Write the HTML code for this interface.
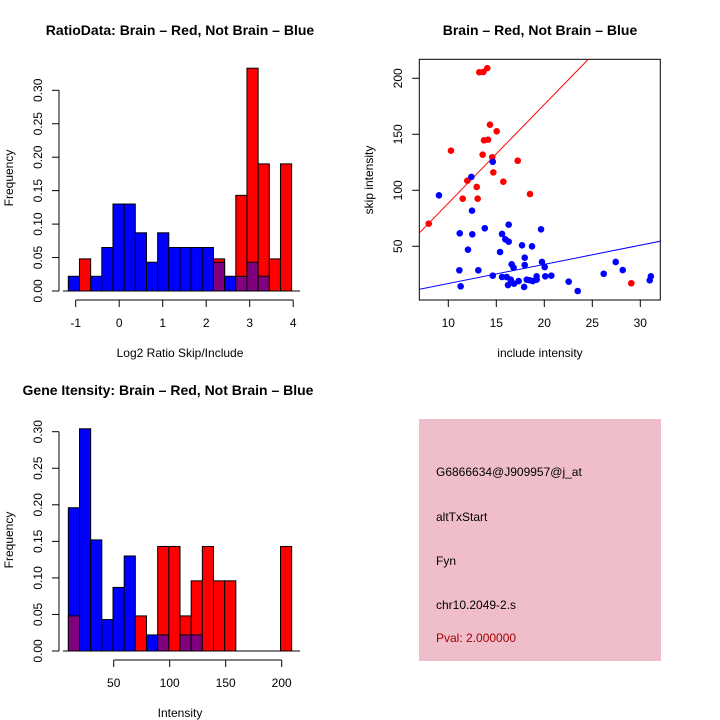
<!DOCTYPE html>
<html><head><meta charset="utf-8"><style>
html,body{margin:0;padding:0;background:#fff}
svg{display:block;font-family:"Liberation Sans",Arial,sans-serif}
</style></head><body>
<svg id="c" width="720" height="720" viewBox="0 0 720 720" xmlns="http://www.w3.org/2000/svg">
<defs>
<pattern id="pinkpat" width="2" height="2" patternUnits="userSpaceOnUse">
<rect width="2" height="2" fill="#f6c4d0"/><rect width="1" height="1" fill="#eab8c4"/><rect x="1" y="1" width="1" height="1" fill="#eab8c4"/>
</pattern>
</defs>
<text x="180" y="35" text-anchor="middle" font-size="14" font-weight="bold">RatioData: Brain – Red, Not Brain – Blue</text>
<text x="540" y="35" text-anchor="middle" font-size="14" font-weight="bold">Brain – Red, Not Brain – Blue</text>
<text x="168" y="395" text-anchor="middle" font-size="14" font-weight="bold">Gene Itensity: Brain – Red, Not Brain – Blue</text>
<text x="180" y="357" text-anchor="middle" font-size="12">Log2 Ratio Skip/Include</text>
<text transform="translate(13,178) rotate(-90)" text-anchor="middle" font-size="12">Frequency</text>
<text x="540" y="357" text-anchor="middle" font-size="12">include intensity</text>
<text transform="translate(373,180) rotate(-90)" text-anchor="middle" font-size="12">skip intensity</text>
<text x="180" y="717" text-anchor="middle" font-size="12">Intensity</text>
<text transform="translate(13,540) rotate(-90)" text-anchor="middle" font-size="12">Frequency</text>
<g>
<rect x="419" y="419" width="242" height="242" fill="url(#pinkpat)"/>
<text x="436" y="476" font-size="12">G6866634@J909957@j_at</text>
<text x="436" y="521" font-size="12">altTxStart</text>
<text x="436" y="565" font-size="12">Fyn</text>
<text x="436" y="609" font-size="12">chr10.2049-2.s</text>
<text x="436" y="642" font-size="12" fill="#a00000">Pval: 2.000000</text>
</g>
<g id="h1"></g><g id="sc"></g><g id="h2"></g>
</svg>
<script>
// Ratio histogram data
const ratioBinStart = -1.17;
const ratioBinWidth = 0.2567;
const ratioBlue = [0.022,0,0.022,0.065,0.13,0.13,0.087,0.043,0.087,0.065,0.065,0.065,0.065,0.043,0.022,0.022,0.043,0.022,0,0];
const ratioRed  = [0,0.048,0,0,0,0,0,0,0,0,0,0,0,0.048,0,0.143,0.333,0.19,0.048,0.19];
const ratioXTicks = [-1,0,1,2,3,4];
const freqTicks = ["0.00","0.05","0.10","0.15","0.20","0.25","0.30"];
// Intensity histogram data
const intBinStart = 9.5;
const intBinWidth = 9.97;
const intBlue = [0.196,0.304,0.152,0.043,0.087,0.13,0,0.022,0.022,0,0.022,0.022,0,0,0,0,0,0,0,0];
const intRed  = [0.048,0,0,0,0,0,0.048,0,0.143,0.143,0.048,0.096,0.143,0.096,0.096,0,0,0,0,0.143];
const intXTicks = [50,100,150,200];
// Scatter data
const redX = [7.96,10.28,11.5,11.98,12.96,13.06,13.23,13.65,14.06,13.58,13.72,14.14,14.34,14.58,14.69,15.04,15.73,17.23,18.51,29.06];
const redY = [70.2,135.4,92.5,108.6,103,92.5,205.4,205.7,209,131.8,144.6,145.2,158.6,129.5,116,152.7,107.7,126.4,96.7,17];
const blueX = [9.03,11.19,11.15,11.29,12.05,12.4,12.47,12.5,13.13,13.8,14.63,14.63,15.39,15.6,15.6,15.94,16.08,16.29,16.29,16.22,16.5,16.6,16.8,16.85,17.33,17.68,17.96,17.96,17.9,18.17,18.5,18.72,18.8,19.2,19.2,19.66,19.76,20.04,20.1,20.73,22.54,23.48,26.19,27.44,28.17,30.98,31.1];
const blueY = [95.5,61.6,28.6,14.3,47,111.9,81.8,60.7,28.6,66.1,125.5,23.8,44.9,61,22.6,56.2,22.6,54.1,69.3,15.4,20.2,33.9,30.9,16.6,19,50.9,39.8,33.3,13.7,20.2,19.6,50,19,23.2,20.2,65.2,36,31.5,23.2,23.8,18.4,10.1,25.5,36,28.8,19.6,23.2];
const redLine = [0.4, 8.81];   // intercept, slope
const blueLine = [-0.33, 1.71];
const scXTicks = [10,15,20,25,30];
const scYTicks = [50,100,150,200];

const NS = "http://www.w3.org/2000/svg";
function mk(parent, tag, attrs){const e=document.createElementNS(NS,tag);for(const k in attrs)e.setAttribute(k,attrs[k]);parent.appendChild(e);return e;}

function hist(gid, name, blue, red, start, width, xs, ys, xTicks, x0px, pxPerX, y0px, pxPerY, axisY, yTop){
  const g=document.getElementById(gid);
  const X=v=>x0px+(v-xTicks[0])*pxPerX;
  const Y=v=>y0px-v*pxPerY;
  for(let i=0;i<blue.length;i++){
    const b=blue[i], r=red[i];
    const xa=X(start+i*width), xb=X(start+(i+1)*width);
    const hi=Math.max(b,r), lo=Math.min(b,r);
    if(hi<=0) continue;
    const col = r>b ? "#ff0000" : "#0000ff";
    const bar=mk(g,"rect",{x:xa,y:Y(hi),width:xb-xa,height:Y(0)-Y(hi),fill:col,stroke:"#000","stroke-width":1});
    
    
    if(lo>0){
      const ov=mk(g,"rect",{x:xa,y:Y(lo),width:xb-xa,height:Y(0)-Y(lo),fill:"#800080",stroke:"#000","stroke-width":1});
      
      
    }
  }
  // y axis
  const ya=mk(g,"path",{d:`M59 ${Y(0)}V${Y(0.3)}`,stroke:"#000",fill:"none"});
  
  
  freqTicks.forEach((t,i)=>{
    const v=parseFloat(t);
    mk(g,"path",{d:`M52 ${Y(v)}H59`,stroke:"#000"});
    const tx=mk(g,"text",{transform:`translate(42,${Y(v)}) rotate(-90)`,"text-anchor":"middle","font-size":12});
    tx.textContent=t;
    
    
  });
  // baseline
  mk(g,"path",{d:`M63 ${Y(0)}H300`,stroke:"#000"});
  // x axis
  const xa=mk(g,"path",{d:`M${X(xTicks[0])} ${axisY}H${X(xTicks[xTicks.length-1])}`,stroke:"#000",fill:"none"});
  
  
  xTicks.forEach(t=>{
    mk(g,"path",{d:`M${X(t)} ${axisY}v7`,stroke:"#000"});
    const tx=mk(g,"text",{x:X(t),y:axisY+27,"text-anchor":"middle","font-size":12});
    tx.textContent=String(t);
    
    
  });
}
hist("h1","ratio-histogram",ratioBlue,ratioRed,ratioBinStart,ratioBinWidth,null,null,ratioXTicks,75.7,43.5,291,669,300,90);
hist("h2","intensity-histogram",intBlue,intRed,intBinStart,intBinWidth,null,null,intXTicks,113.7,1.12,651,731,660,432);

// scatter
(function(){
  const g=document.getElementById("sc");
  const X=v=>448.3+(v-10)*9.6;
  const Y=v=>302.3-v*1.12;
  const L=419.3,R=660.3,T=59.3,B=300;
  const box=mk(g,"rect",{x:L,y:T,width:R-L,height:B-T,fill:"none",stroke:"#000"});
  
  
  const clip=mk(g,"clipPath",{id:"scclip"});
  mk(clip,"rect",{x:L,y:T,width:R-L,height:B-T});
  const inner=mk(g,"g",{"clip-path":"url(#scclip)"});
  [[redLine,"#ff0000","red-regression-line"],[blueLine,"#0000ff","blue-regression-line"]].forEach(([ln,c,n])=>{
    const xa=6,xb=34;
    const p=mk(inner,"line",{x1:X(xa),y1:Y(ln[0]+ln[1]*xa),x2:X(xb),y2:Y(ln[0]+ln[1]*xb),stroke:c,"stroke-width":1});
    
    
  });
  redX.forEach((x,i)=>{
    const c=mk(inner,"circle",{cx:X(x),cy:Y(redY[i]),r:3.3,fill:"#ff0000"});
    
    
  });
  blueX.forEach((x,i)=>{
    const c=mk(inner,"circle",{cx:X(x),cy:Y(blueY[i]),r:3.3,fill:"#0000ff"});
    
    
  });
  scXTicks.forEach(t=>{
    mk(g,"path",{d:`M${X(t)} ${B}v7`,stroke:"#000"});
    const tx=mk(g,"text",{x:X(t),y:B+27,"text-anchor":"middle","font-size":12});
    tx.textContent=String(t);
    
    
  });
  scYTicks.forEach(t=>{
    mk(g,"path",{d:`M${L-7} ${Y(t)}H${L}`,stroke:"#000"});
    const tx=mk(g,"text",{transform:`translate(402,${Y(t)}) rotate(-90)`,"text-anchor":"middle","font-size":12});
    tx.textContent=String(t);
    
    
  });
})();
</script>
</body></html>
